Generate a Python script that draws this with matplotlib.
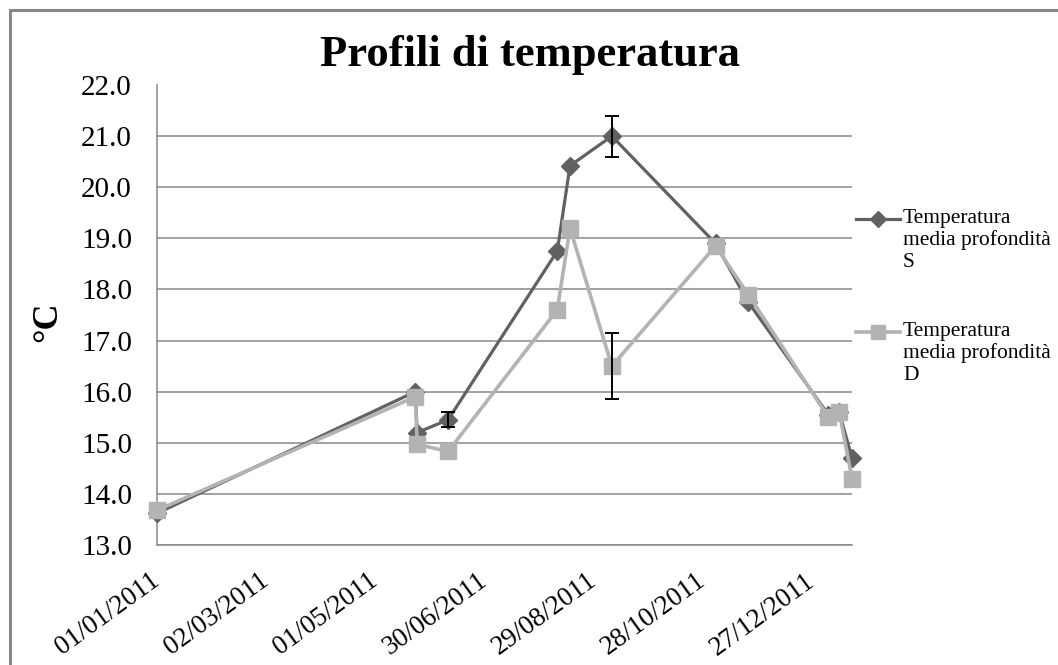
import matplotlib
matplotlib.use("Agg")
import matplotlib.pyplot as plt
import matplotlib.dates as mdates
import numpy as np
from matplotlib.lines import Line2D
from matplotlib.ticker import FormatStrFormatter

plt.rcParams["font.family"] = ["Liberation Serif", "DejaVu Serif"]

# data
dates = np.array([
    "2011-01-01", "2011-05-23", "2011-05-24", "2011-06-10", "2011-08-09", "2011-08-16",
    "2011-09-08", "2011-11-04", "2011-11-22", "2012-01-05", "2012-01-11", "2012-01-18",
], dtype="datetime64[D]")
temp_s = [13.62, 16.0, 15.2, 15.45, 18.75, 20.42, 21.0, 18.9, 17.75, 15.55, 15.6, 14.7]
err_s = [0, 0, 0, 0.15, 0, 0, 0.4, 0, 0, 0, 0, 0]
temp_d = [13.68, 15.9, 14.97, 14.83, 17.6, 19.2, 16.5, 18.85, 17.9, 15.5, 15.6, 14.3]
err_d = [0, 0, 0, 0, 0, 0, 0.65, 0, 0, 0, 0, 0]

label_s = "Temperatura\nmedia profondità\nS"
label_d = "Temperatura\nmedia profondità\nD"
title = "Profili di temperatura"
tick_dates = np.arange(np.datetime64("2011-01-01"), np.datetime64("2012-01-10"), 60)

COL_S = "#616161"
COL_D = "#b3b3b3"
GRID = "#878787"

W, H = 1058, 665
fig = plt.figure(figsize=(W / 100, H / 100), dpi=100)
ax = fig.add_axes([157 / W, (H - 545) / H, (852 - 157) / W, (545 - 85) / H])


def draw_series(vals, errs, color, lw, marker, ms, z):
    ax.plot(dates, vals, "-", color=color, lw=lw, marker=marker, ms=ms,
            zorder=z, clip_on=False)
    errs = np.asarray(errs, dtype=float)
    has = errs > 0
    ax.errorbar(dates[has], np.asarray(vals)[has], yerr=errs[has], fmt="none",
                ecolor="black", elinewidth=1.4, capsize=5, capthick=1.4, zorder=z + 1)


draw_series(temp_s, err_s, COL_S, 2.3, "D", 9, 3)
draw_series(temp_d, err_d, COL_D, 2.6, "s", 11, 5)

ax.set_xlim(dates[0], dates[-1])
ax.set_ylim(13, 22)
ax.set_yticks(np.arange(13, 22.5, 1.0))
ax.yaxis.set_major_formatter(FormatStrFormatter("%.1f"))
ax.set_xticks(tick_dates)
ax.xaxis.set_major_formatter(mdates.DateFormatter("%d/%m/%Y"))

ax.yaxis.grid(True, color=GRID, lw=1.1)
ax.yaxis.get_gridlines()[-1].set_visible(False)
ax.set_axisbelow(True)
for side in ("top", "right"):
    ax.spines[side].set_visible(False)
for side in ("left", "bottom"):
    ax.spines[side].set_color(GRID)
    ax.spines[side].set_linewidth(1.1)

ax.tick_params(axis="y", length=0, pad=18, labelsize=21)
ax.tick_params(axis="x", length=0, pad=24, labelsize=19.5)
for lab in ax.get_xticklabels():
    lab.set_rotation(36)
    lab.set_ha("right")
    lab.set_va("center")
    lab.set_rotation_mode("anchor")

fig.text(530 / W, 1 - 66 / H, title, ha="center", va="baseline",
         fontsize=32, fontweight="bold")
fig.text(48 / W, 1 - 322 / H, "°C", ha="center", va="center", rotation=90,
         fontsize=26, fontweight="bold")

# legend, handle aligned with first text line
for y0, col, mk, ms, lw, lab in [(219, COL_S, "D", 8, 2.3, label_s),
                                 (332, COL_D, "s", 10, 2.6, label_d)]:
    fig.add_artist(Line2D([856 / W, 900 / W], [1 - y0 / H] * 2, color=col, lw=lw,
                          transform=fig.transFigure))
    fig.add_artist(Line2D([878 / W], [1 - y0 / H], color=col, marker=mk, ms=ms,
                          transform=fig.transFigure))
    fig.text(903 / W, 1 - (y0 - 10) / H, lab, ha="left", va="top", fontsize=15.5,
             linespacing=1.17)

# outer chart frame (cut off at right and bottom)
fig.add_artist(Line2D([10 / W, 10 / W], [0, 1 - 10 / H], color="#888888", lw=2.2,
                      transform=fig.transFigure))
fig.add_artist(Line2D([10 / W, 1], [1 - 10 / H, 1 - 10 / H], color="#888888", lw=2.2,
                      transform=fig.transFigure))

fig.savefig("out.png", dpi=100)
